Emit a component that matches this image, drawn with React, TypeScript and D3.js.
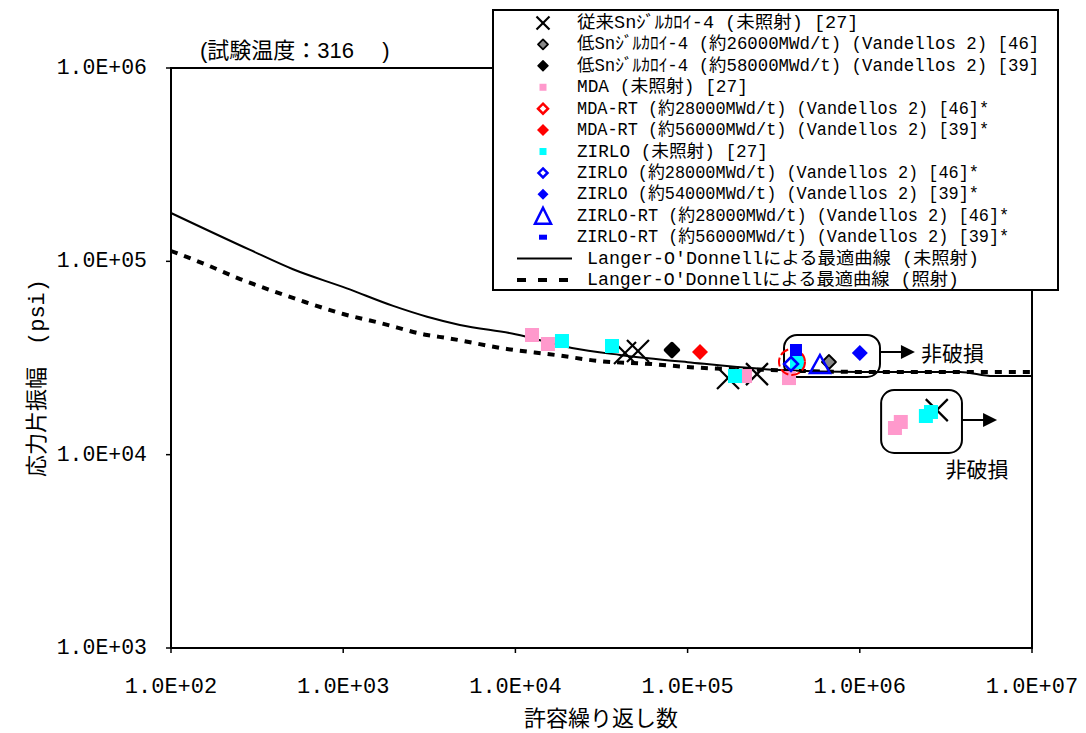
import React from "react";
import * as d3 from "d3";

// ---------- axis ticks ----------
const xTickValues = [1e2, 1e3, 1e4, 1e5, 1e6, 1e7];
const xTickLabels = ["1.0E+02", "1.0E+03", "1.0E+04", "1.0E+05", "1.0E+06", "1.0E+07"];
const yTickValues = [1e3, 1e4, 1e5, 1e6];
const yTickLabels = ["1.0E+03", "1.0E+04", "1.0E+05", "1.0E+06"];

// ---------- best-fit curves ----------
const fitUnirrN = [100, 288, 511, 1050, 1950, 3070, 4760, 10000, 21300, 40500, 100000, 344000, 1000000, 3820000, 5940000, 10000000];
const fitUnirrS = [177800, 114500, 91000, 72500, 58800, 51700, 46900, 42000, 35600, 32800, 30100, 27400, 26800, 26800, 25500, 25500];
const fitIrrN = [100, 162, 252, 391, 600, 1000, 1640, 3070, 4010, 8930, 17000, 30600, 62100, 100000, 301000, 1000000, 10000000];
const fitIrrS = [113100, 95700, 81000, 70200, 61600, 53400, 48000, 41600, 40100, 35200, 32800, 30500, 29400, 28400, 27400, 26800, 26800];

// ---------- data series ----------
const zry4N = [43300, 51500, 171700, 252900, 2800000];
const zry4S = [33600, 34400, 24900, 26100, 17000];
const lowSn26N = [662000];
const lowSn26S = [30150];
const lowSn58N = [81100];
const lowSn58S = [34780];
const mdaN = [12490, 15450, 215300, 388000, 1600000, 1730000];
const mdaS = [41590, 37360, 25510, 24900, 13740, 14760];
const mdaRt28N = [403800];
const mdaRt28S = [30150];
const mdaRt56N = [118000];
const mdaRt56S = [33960];
const zirloN = [18640, 36390, 188400, 431900, 2420000, 2590000];
const zirloS = [38710, 36480, 25510, 30150, 15850, 16620];
const zirlo28N = [398600];
const zirlo28S = [29440];
const zirlo54N = [1000000];
const zirlo54S = [33600];
const zirloRt28N = [587000];
const zirloRt28S = [29440];
const zirloRt56N = [426000];
const zirloRt56S = [34780];

const legendLabels = [
  "従来Snｼﾞﾙｶﾛｲ-4 (未照射) [27]",
  "低Snｼﾞﾙｶﾛｲ-4 (約26000MWd/t) (Vandellos 2) [46]",
  "低Snｼﾞﾙｶﾛｲ-4 (約58000MWd/t) (Vandellos 2) [39]",
  "MDA (未照射) [27]",
  "MDA-RT (約28000MWd/t) (Vandellos 2) [46]*",
  "MDA-RT (約56000MWd/t) (Vandellos 2) [39]*",
  "ZIRLO (未照射) [27]",
  "ZIRLO (約28000MWd/t) (Vandellos 2) [46]*",
  "ZIRLO (約54000MWd/t) (Vandellos 2) [39]*",
  "ZIRLO-RT (約28000MWd/t) (Vandellos 2) [46]*",
  "ZIRLO-RT (約56000MWd/t) (Vandellos 2) [39]*",
  "Langer-O'Donnellによる最適曲線 (未照射)",
  "Langer-O'Donnellによる最適曲線 (照射)",
];

// annotation regions (data units): runout boxes
const runoutBoxN = [[363000, 1310000], [1330000, 3920000]];
const runoutBoxS = [[41590, 25230], [21580, 10210]];
const runoutArrowS = [33960, 15110];
const runoutArrowEndN = [2090000, 6270000];
const runoutLabel = "非破損";

type Kind =
  | "x" | "diamondGray" | "diamondBlack" | "squarePink" | "diamondRedOpen" | "diamondRed"
  | "squareCyan" | "diamondBlueOpen" | "diamondBlue" | "triBlue" | "squareBlue" | "circleRed";

const PINK = "#FF99CC";
const CYAN = "#00FFFF";
const BLUE = "#0000FF";
const RED = "#FF0000";

function Marker({ kind, cx, cy, legend }: { kind: Kind; cx: number; cy: number; legend?: boolean }) {
  const k = legend ? 0.6 : 1;
  const dia = (h: number) => `${cx},${cy - h} ${cx + h},${cy} ${cx},${cy + h} ${cx - h},${cy}`;
  switch (kind) {
    case "x": {
      const h = legend ? 6.5 : 11;
      return (
        <g stroke="#000" strokeWidth={2.2}>
          <line x1={cx - h} y1={cy - h} x2={cx + h} y2={cy + h} />
          <line x1={cx - h} y1={cy + h} x2={cx + h} y2={cy - h} />
        </g>
      );
    }
    case "diamondGray":
      return <polygon points={dia(legend ? 5 : 7)} fill="#888" stroke="#000" strokeWidth={1.8} strokeLinejoin="round" />;
    case "diamondBlack":
      return <polygon points={dia(legend ? 5 : 6.5)} fill="#000" stroke="#000" strokeWidth={legend ? 1.5 : 3.5} strokeLinejoin="round" />;
    case "squarePink": {
      const s = legend ? 7 : 14;
      return <rect x={cx - s / 2} y={cy - s / 2} width={s} height={s} fill={PINK} />;
    }
    case "squareCyan": {
      const s = legend ? 7 : 14;
      return <rect x={cx - s / 2} y={cy - s / 2} width={s} height={s} fill={CYAN} />;
    }
    case "squareBlue": {
      if (legend) return <rect x={cx - 4} y={cy - 2.5} width={8} height={5} fill={BLUE} />;
      return <rect x={cx - 6} y={cy - 6} width={12} height={12} fill={BLUE} />;
    }
    case "diamondRedOpen":
      return <polygon points={dia(legend ? 5 : 8)} fill="#fff" stroke={RED} strokeWidth={2.5} />;
    case "diamondRed":
      return <polygon points={dia(legend ? 6 : 8)} fill={RED} />;
    case "diamondBlueOpen":
      return <polygon points={dia(legend ? 4.5 : 7)} fill="none" stroke={BLUE} strokeWidth={2.5} />;
    case "diamondBlue":
      return <polygon points={dia(legend ? 5.5 : 8)} fill={BLUE} />;
    case "triBlue": {
      const hw = legend ? 8 : 10;
      const hh = legend ? 8 : 9;
      return (
        <polygon
          points={`${cx},${cy - hh} ${cx + hw},${cy + hh} ${cx - hw},${cy + hh}`}
          fill="none" stroke={BLUE} strokeWidth={2.5}
        />
      );
    }
    case "circleRed":
      return <circle cx={cx} cy={cy} r={13 * k} fill="none" stroke={RED} strokeWidth={2} strokeDasharray="9 3" />;
  }
  return null;
}

const hwCount = (s: string) => {
  let n = 0;
  for (const ch of s) {
    const c = ch.codePointAt(0) || 0;
    if (c >= 0xff61 && c <= 0xff9f) n += 1;
    else if (c >= 0x2e80) n += 2;
    else n += 1;
  }
  return n;
};

export default function App() {
  const left = 171, right = 1032, top = 68, bottom = 648;
  const x = d3.scaleLog().domain([1e2, 1e7]).range([left, right]);
  const y = d3.scaleLog().domain([1e3, 1e6]).range([bottom, top]);
  const line = d3
    .line<[number, number]>()
    .x((d) => x(d[0]))
    .y((d) => y(d[1]))
    .curve(d3.curveMonotoneX);

  const unirrPath = line(fitUnirrN.map((n, i) => [n, fitUnirrS[i]] as [number, number])) || "";
  const irrPath = line(fitIrrN.map((n, i) => [n, fitIrrS[i]] as [number, number])) || "";

  // draw order (later on top)
  const series: { N: number[]; S: number[]; kind: Kind }[] = [
    { N: zry4N, S: zry4S, kind: "x" },
    { N: mdaN, S: mdaS, kind: "squarePink" },
    { N: zirloN, S: zirloS, kind: "squareCyan" },
    { N: lowSn26N, S: lowSn26S, kind: "diamondGray" },
    { N: lowSn58N, S: lowSn58S, kind: "diamondBlack" },
    { N: mdaRt56N, S: mdaRt56S, kind: "diamondRed" },
    { N: mdaRt28N, S: mdaRt28S, kind: "circleRed" },
    { N: zirlo28N, S: zirlo28S, kind: "diamondBlueOpen" },
    { N: zirloRt28N, S: zirloRt28S, kind: "triBlue" },
    { N: zirlo54N, S: zirlo54S, kind: "diamondBlue" },
    { N: zirloRt56N, S: zirloRt56S, kind: "squareBlue" },
  ];

  const legendKinds: (Kind | "solid" | "dashed")[] = [
    "x", "diamondGray", "diamondBlack", "squarePink", "diamondRedOpen", "diamondRed",
    "squareCyan", "diamondBlueOpen", "diamondBlue", "triBlue", "squareBlue", "solid", "dashed",
  ];

  const monoFont = "'Liberation Mono', 'Noto Sans CJK JP', monospace";
  const sansFont = "'Liberation Sans', Arial, 'Noto Sans CJK JP', sans-serif";
  const cjkFont = "'Noto Sans CJK JP', 'Liberation Sans', sans-serif";

  const legX = 493, legY = 10, legW = 565, legH = 280;
  const rowY = (i: number) => 23 + i * 21.42;

  return (
    <svg
      width={1086}
      height={733}
      style={{ position: "absolute", left: 0, top: 0, background: "#fff" }}
      xmlns="http://www.w3.org/2000/svg"
    >
      <rect x={0} y={0} width={1086} height={733} fill="#fff" />

      {/* plot frame */}
      <rect x={left} y={top} width={right - left} height={bottom - top} fill="none" stroke="#000" strokeWidth={2} />

      {/* ticks */}
      {yTickValues.map((v) => (
        <line key={"yt" + v} x1={left - 5} x2={left} y1={y(v)} y2={y(v)} stroke="#000" strokeWidth={1.5} />
      ))}
      {xTickValues.map((v) => (
        <line key={"xt" + v} x1={x(v)} x2={x(v)} y1={bottom} y2={bottom + 5} stroke="#000" strokeWidth={1.5} />
      ))}

      {/* tick labels */}
      {yTickValues.map((v, i) => (
        <text key={"yl" + v} x={147} y={y(v)} textAnchor="end" dominantBaseline="central"
          fontFamily={monoFont} fontSize={21.5} fill="#000">
          {yTickLabels[i]}
        </text>
      ))}
      {xTickValues.map((v, i) => (
        <text key={"xl" + v} x={x(v)} y={687} textAnchor="middle" dominantBaseline="central"
          fontFamily={monoFont} fontSize={22} fill="#000">
          {xTickLabels[i]}
        </text>
      ))}

      {/* axis titles */}
      <text x={601} y={716} textAnchor="middle" dominantBaseline="central" fontFamily={cjkFont} fontSize={22} fill="#000">
        許容繰り返し数
      </text>
      <text transform="translate(38,378) rotate(-90)" textAnchor="middle" dominantBaseline="central"
        fontFamily={monoFont} fontSize={22} fill="#000">
        応力片振幅　(psi)
      </text>

      {/* test temperature note */}
      <text x={200} y={50} dominantBaseline="central" fontFamily={sansFont} fontSize={22} fill="#000">
        (試験温度：316　 )
      </text>

      {/* curves */}
      <path d={unirrPath} fill="none" stroke="#000" strokeWidth={2} />
      <path d={irrPath} fill="none" stroke="#000" strokeWidth={4} strokeDasharray="7 7" />

      {/* runout boxes */}
      {runoutBoxN.map((nb, i) => {
        const x0 = x(nb[0]), x1 = x(nb[1]);
        const y0 = y(runoutBoxS[i][0]), y1 = y(runoutBoxS[i][1]);
        const ay = y(runoutArrowS[i]);
        const ax = x(runoutArrowEndN[i]);
        return (
          <g key={"box" + i}>
            <rect x={x0} y={y0} width={x1 - x0} height={y1 - y0} rx={13} ry={13} fill="none" stroke="#000" strokeWidth={2} />
            <line x1={x1} x2={ax - 12} y1={ay} y2={ay} stroke="#000" strokeWidth={2} />
            <polygon points={`${ax},${ay} ${ax - 14},${ay - 7} ${ax - 14},${ay + 7}`} fill="#000" />
          </g>
        );
      })}
      <text x={x(runoutArrowEndN[0]) + 6} y={y(runoutArrowS[0])} dominantBaseline="central" fontFamily={cjkFont} fontSize={21} fill="#000">
        {runoutLabel}
      </text>
      <text x={977} y={468} textAnchor="middle" dominantBaseline="central" fontFamily={cjkFont} fontSize={21} fill="#000">
        {runoutLabel}
      </text>

      {/* data markers */}
      {series.map((s, si) =>
        s.N.map((n, i) => <Marker key={`m${si}-${i}`} kind={s.kind} cx={x(n)} cy={y(s.S[i])} />)
      )}

      {/* legend */}
      <rect x={legX} y={legY} width={legW} height={legH} fill="#fff" stroke="#000" strokeWidth={2} />
      {legendLabels.map((lab, i) => {
        const k = legendKinds[i];
        const cy = rowY(i);
        const isLine = k === "solid" || k === "dashed";
        const tx = isLine ? 587 : 577;
        return (
          <g key={"leg" + i}>
            {k === "solid" && <line x1={517} x2={572} y1={cy} y2={cy} stroke="#000" strokeWidth={2} />}
            {k === "dashed" && (
              <line x1={517} x2={572} y1={cy} y2={cy} stroke="#000" strokeWidth={4} strokeDasharray="9 12" />
            )}
            {!isLine && <Marker kind={k as Kind} cx={543} cy={cy} legend />}
            <text x={tx} y={cy} dominantBaseline="central" fontFamily={monoFont} fontSize={17.5} fill="#000"
              textLength={hwCount(lab) * 10.05} lengthAdjust="spacingAndGlyphs">
              {lab}
            </text>
          </g>
        );
      })}
    </svg>
  );
}
